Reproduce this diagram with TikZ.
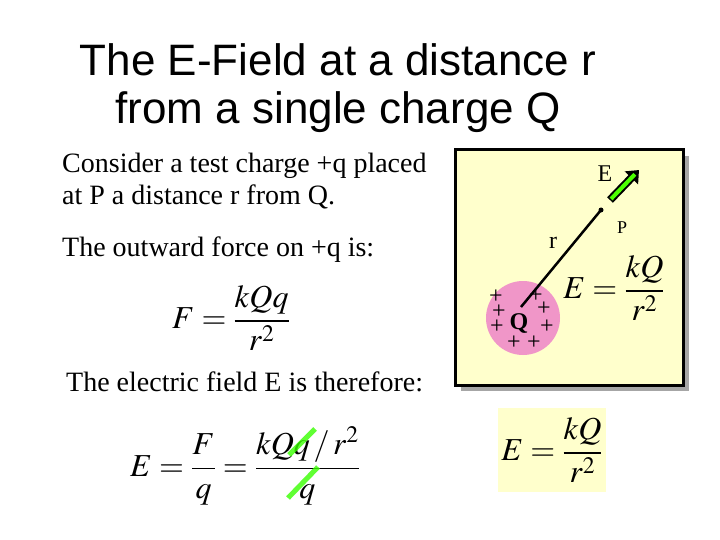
\documentclass[tikz,border=0pt]{standalone}
\usepackage{amsmath}
\usepackage{mathptmx}
\usepackage{fontspec}
\setmainfont{Liberation Serif}
\newfontfamily\titlefont{Liberation Sans}
\usetikzlibrary{arrows.meta}
\begin{document}
\begin{tikzpicture}[x=1pt,y=-1pt]
\tikzset{
 title/.style={font=\titlefont\fontsize{44}{48}\selectfont, align=center},
 body/.style={font=\fontsize{28}{32}\selectfont, anchor=west, align=left, inner sep=0pt},
 eq/.style={font=\fontsize{32}{36}\selectfont},
 strike/.style={draw=green!70!lime, line width=5pt, opacity=0.8},
 lbl/.style={font=\fontsize{24}{26}\selectfont},
 plus/.style={font=\fontsize{24}{24}\selectfont, inner sep=0pt}
}
\useasboundingbox (0,0) rectangle (720,540);
\fill[white] (0,0) rectangle (720,540);
\node[title] (t) at (338,88) {The E-Field at a distance r\\from a single charge Q};
\node[body] (b1) at (62,181) {Consider a test charge +q placed\\at P a distance r from Q.};
\node[body] (b2) at (62,250) {The outward force on +q is:};
\node[eq] (f1) at (231,318) {$F=\dfrac{kQq}{r^{2}}$};
\node[body] (b3) at (66,382) {The electric field E is therefore:};
\node[eq] (f2) at (245,466) {$E=\dfrac{F}{q}=\dfrac{kQq\,/\,r^{2}}{q}$};
\draw[strike] (289,455) -- (315,429);
\draw[strike] (288,498) -- (318,467);
% right panel
\fill[gray!70] (461,156) rectangle (689,391);
\draw[line width=3pt, fill={rgb,255:red,255;green,255;blue,204}] (455,150) rectangle (683,385);
\node[circle, fill={rgb,255:red,240;green,150;blue,200}, minimum size=74pt, inner sep=0pt] (c) at (523,318) {};
\node[font=\fontsize{24}{24}\selectfont\bfseries, inner sep=0pt] (q) at (519,323) {Q};
\foreach \p in {(496,297),(536,296),(499,312),(544,309),(497,327),(547,327),(514,343),(534,343)}
  \node[plus] at \p {+};
\coordinate (pt) at (601,210);
\fill (pt) circle (2.5pt);
\draw[line width=2.5pt] (521,307) -- (pt);
\coordinate (a0) at (610,200);
\coordinate (a1) at (639,170);
\draw[line width=8pt, -{Triangle[length=11pt,width=18pt]}] (a0) -- (a1);
\draw[line width=4pt, green!60!lime, shorten >=6pt, shorten <=1.5pt] (a0) -- (a1);
\node[lbl] (e) at (605,174) {E};
\node[font=\fontsize{18}{20}\selectfont] (p) at (622,228) {P};
\node[lbl] (r) at (553,243) {r};
\node[eq] (f3) at (614,288) {$E=\dfrac{kQ}{r^{2}}$};
% bottom box
\fill[fill={rgb,255:red,255;green,255;blue,204}] (498,408) rectangle (606,492);
\node[eq] (f4) at (552,450) {$E=\dfrac{kQ}{r^{2}}$};
\end{tikzpicture}
\end{document}
